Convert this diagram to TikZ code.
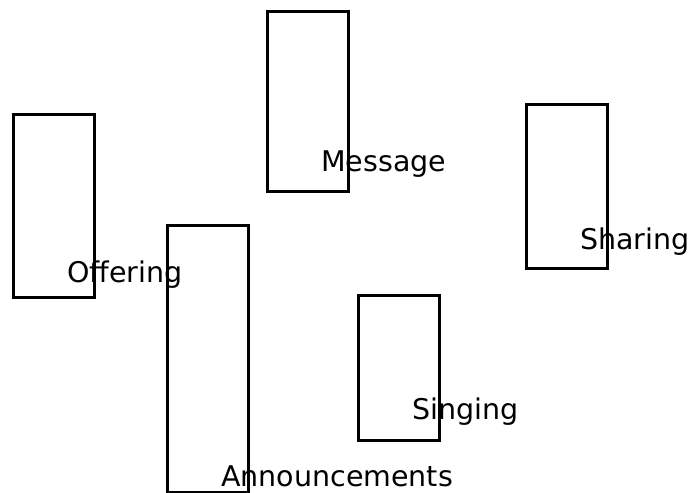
\documentclass[tikz,border=0pt]{standalone}
\usepackage{fontspec}
\setmainfont{DejaVu Sans}
\usepackage{tikz}

\tikzset{
  bar/.style={draw, line width=2.6bp, anchor=north west, inner sep=0pt,
    minimum width=#1},
  bar/.default=81bp,
  lbl/.style={anchor=base west, inner sep=0pt, font=\fontsize{28.5bp}{32bp}\selectfont}
}

\begin{document}
\begin{tikzpicture}[x=1bp, y=-1bp]
        \useasboundingbox (0,0) rectangle (697,493);
        % Die Kästen
        \node[bar, minimum height=180bp] (msgbox) at (266,10) {};
        \node[bar, minimum height=183bp] (offbox) at (12,113) {};
        \node[bar, minimum height=164bp] (shabox) at (525,103) {};
        \node[bar, minimum height=267bp] (annbox) at (166,224) {};
        \node[bar, minimum height=145bp] (sngbox) at (357,294) {};
        % Beschriftungen
        \node[lbl] (msg) at (321,172) {Message};
        \node[lbl] (off) at (67,282.5) {Offering};
        \node[lbl] (sha) at (580,250) {Sharing};
        \node[lbl] (sng) at (412,419) {Singing};
        \node[lbl] (ann) at (221,486.5) {Announcements};
    \end{tikzpicture}
\end{document}
